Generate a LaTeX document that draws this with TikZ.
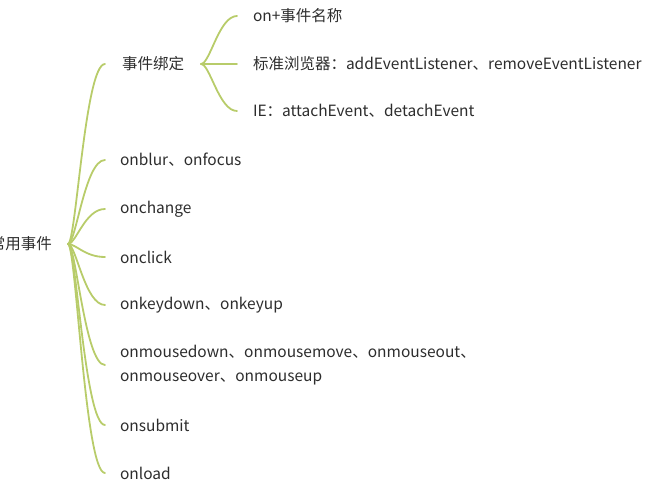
\documentclass[tikz,border=0pt]{standalone}
\usepackage{fontspec}
\setmainfont{Noto Sans CJK SC}
\usetikzlibrary{positioning}
\definecolor{twig}{RGB}{184,204,106}
\definecolor{ink}{RGB}{45,45,45}
\tikzset{
  twigline/.style={draw=twig, line width=1.8pt, line cap=round},
  leaf/.style={anchor=west, inner xsep=0pt, inner ysep=1pt, outer xsep=15pt, text=ink, align=left}
}
\begin{document}
\begin{tikzpicture}[x=1pt, y=-1pt, font=\fontsize{15.5}{24}\selectfont]
  \useasboundingbox (0,0) rectangle (660,486);
  \clip (0,0) rectangle (660,486);
  % root and first level
  \node[leaf, anchor=east, outer xsep=16pt] (root) at (68,244) {常用事件};
  \node[leaf, outer xsep=17pt] (bind) at (105,64) {事件绑定};
  \foreach \nm/\yy/\txt in {blur/160/{onblur、onfocus}, change/209/onchange, click/257/onclick,
      key/305/{onkeydown、onkeyup},
      mouse/365/{onmousedown、onmousemove、onmouseout、\\onmouseover、onmouseup},
      submit/425/onsubmit, load/473/onload}
    \node[leaf] (\nm) at (105,\yy) {\txt};
  % second level under the binding node
  \node[leaf, outer xsep=16pt] (bindA) at (237,16) {on+事件名称};
  \node[leaf, outer xsep=16pt] (bindB) at (237,64) {标准浏览器：addEventListener、removeEventListener};
  \node[leaf, outer xsep=16pt] (bindC) at (237,111) {IE：attachEvent、detachEvent};
  % curved connectors
  \foreach \nm in {bind,blur,change,click,key,mouse,submit,load}
    \draw[twigline] (root.east) .. controls +(8,0) and +(-20,0) .. (\nm.west);
  \foreach \nm in {bindA,bindB,bindC}
    \draw[twigline] (bind.east) .. controls +(9,0) and +(-18,0) .. (\nm.west);
\end{tikzpicture}
\end{document}
